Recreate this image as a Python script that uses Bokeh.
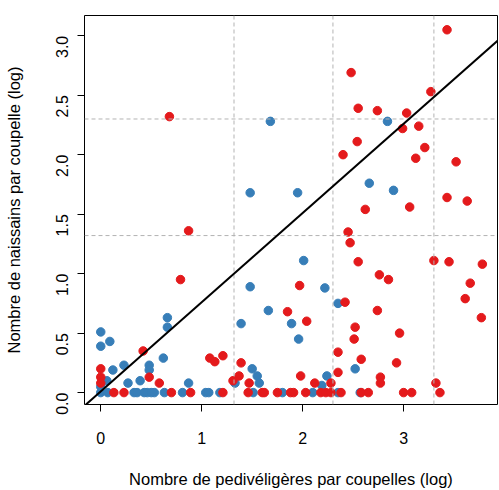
import math
from bokeh.plotting import figure
from bokeh.models import Range1d, FixedTicker, Span, Slope
from bokeh.embed import file_html
from bokeh.resources import INLINE

# ---- data (log10 values) ----
red_x = [3.43, 2.48, 3.27, 2.55, 2.74, 3.03, 0.68, 2.99, 3.15, 2.54, 2.40, 3.21, 3.12, 3.52,
         3.43, 3.63, 2.62, 3.06, 0.87, 2.45, 2.47, 0.79, 2.55, 2.76, 2.85, 3.30, 3.45, 3.78,
         3.66, 3.61, 1.97, 2.42, 2.74, 1.85,
         3.77, 2.04, 2.52, 2.51, 2.96, 2.35, 2.58, 2.93, 2.35, 1.98, 2.77, 2.77, 2.12, 2.28, 3.32,
         1.21, 1.39, 1.37, 1.31, 1.47,
         0.42, 0.00, 0.00, 0.00, 0.48, 0.58, 1.08, 1.13,
         0.13, 0.23, 0.70, 0.89, 1.21, 1.46, 1.60, 1.62, 1.75, 1.88, 1.91, 2.03, 2.18, 2.23,
         2.28, 2.38, 2.58, 2.65, 3.00, 3.08, 3.36]
red_y = [3.05, 2.69, 2.53, 2.39, 2.37, 2.35, 2.32, 2.22, 2.24, 2.11, 2.00, 2.06, 1.97, 1.94,
         1.64, 1.61, 1.54, 1.56, 1.36, 1.35, 1.26, 0.95, 1.10, 0.99, 0.95, 1.11, 1.10, 1.08,
         0.92, 0.79, 0.90, 0.76, 0.69, 0.68,
         0.63, 0.60, 0.55, 0.45, 0.50, 0.34, 0.28, 0.25, 0.17, 0.14, 0.13, 0.08, 0.08, 0.08, 0.08,
         0.31, 0.25, 0.14, 0.10, 0.08,
         0.35, 0.20, 0.13, 0.08, 0.13, 0.08, 0.29, 0.26,
         0.0, 0.0, 0.0, 0.0, 0.0, 0.0, 0.0, 0.0, 0.0, 0.0, 0.0, 0.0, 0.0, 0.0,
         0.0, 0.0, 0.0, 0.0, 0.0, 0.0, 0.0]

blue_x = [1.68, 2.84, 2.66, 2.90, 1.48, 1.95, 2.01, 1.48, 2.22, 2.35, 1.66,
          1.89, 1.96, 2.52, 2.24, 2.19, 1.39, 1.50, 1.55, 1.33, 1.57,
          0.66, 0.66, 0.00, 0.09, 0.00, 0.62, 0.23, 0.12, 0.48, 0.48, 0.06, 0.27, 0.39, 0.87, 0.00,
          0.00, 0.07, 0.33, 0.36, 0.43, 0.46, 0.50, 0.53, 0.63, 0.81, 1.04, 1.07, 1.18, 1.51,
          1.80, 2.10, 2.35, 2.57]
blue_y = [2.28, 2.28, 1.76, 1.70, 1.68, 1.68, 1.11, 0.89, 0.88, 0.75, 0.69,
          0.58, 0.45, 0.20, 0.14, 0.06, 0.58, 0.20, 0.14, 0.08, 0.08,
          0.63, 0.55, 0.51, 0.43, 0.39, 0.29, 0.23, 0.19, 0.23, 0.19, 0.10, 0.08, 0.10, 0.08, 0.05,
          0.0, 0.0, 0.0, 0.0, 0.0, 0.0, 0.0, 0.0, 0.0, 0.0, 0.0, 0.0, 0.0, 0.0,
          0.0, 0.0, 0.0, 0.0]

x_ticks = [0, 1, 2, 3]
y_ticks = [0.0, 0.5, 1.0, 1.5, 2.0, 2.5, 3.0]
v_lines = [1.32, 2.30, 3.30]
h_lines = [1.32, 2.30]
fit_slope = 0.75
fit_intercept = 0.01

FONT = "Liberation Sans"

p = figure(width=499, height=490, output_backend="svg", toolbar_location=None,
           x_range=Range1d(-0.161, 3.93), y_range=Range1d(-0.10, 3.17),
           min_border_left=84, min_border_right=2, min_border_top=15, min_border_bottom=83)
p.background_fill_color = "white"
p.border_fill_color = "white"
p.outline_line_color = "black"
p.outline_line_width = 1
p.xgrid.visible = False
p.ygrid.visible = False

for v in v_lines:
    p.add_layout(Span(location=v, dimension="height", line_color="#b3b3b3",
                      line_dash="4 3", line_width=1))
for h in h_lines:
    p.add_layout(Span(location=h, dimension="width", line_color="#b3b3b3",
                      line_dash="4 3", line_width=1))

p.scatter(x=blue_x, y=blue_y, size=8.5, fill_color="#377EB8", line_color="#377EB8")
p.scatter(x=red_x, y=red_y, size=8.5, fill_color="#E41A1C", line_color="#E41A1C")

p.add_layout(Slope(gradient=fit_slope, y_intercept=fit_intercept,
                   line_color="black", line_width=2))

# axes
p.xaxis.ticker = FixedTicker(ticks=x_ticks)
p.yaxis.ticker = FixedTicker(ticks=y_ticks)
p.xaxis.major_label_overrides = {t: str(t) for t in x_ticks}
p.yaxis.major_label_overrides = {t: f"{t:.1f}" for t in y_ticks}
p.yaxis.major_label_orientation = math.pi / 2
for ax in (p.xaxis, p.yaxis):
    ax.axis_line_color = None
    ax.major_tick_line_color = "black"
    ax.major_tick_out = 7
    ax.major_tick_in = 0
    ax.minor_tick_line_color = None
    ax.major_label_text_font = FONT
    ax.major_label_text_font_size = "16px"
    ax.major_label_text_color = "black"
    ax.axis_label_text_font = FONT
    ax.axis_label_text_font_size = "16.5px"
    ax.axis_label_text_font_style = "normal"
    ax.axis_label_text_color = "black"

p.xaxis.axis_label = "Nombre de pedivéligères par coupelles (log)"
p.yaxis.axis_label = "Nombre de naissains par coupelle (log)"
p.xaxis.major_label_standoff = 20
p.xaxis.axis_label_standoff = 23
p.yaxis.major_label_standoff = 15
p.yaxis.axis_label_standoff = 25

open("out.html", "w").write(file_html(p, INLINE))
